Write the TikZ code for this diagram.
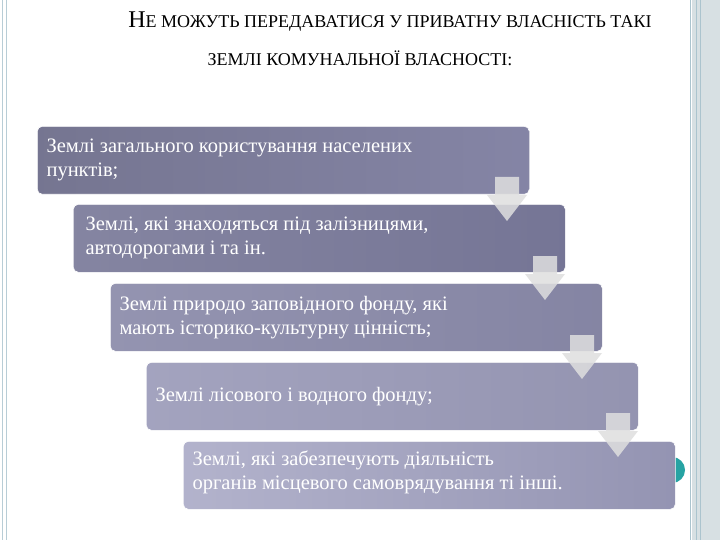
\documentclass[tikz,border=0pt]{standalone}
\usepackage{fontspec}
\setmainfont{Liberation Serif}
\begin{document}
\begin{tikzpicture}[x=1pt,y=-1pt,
 bx/.style={rounded corners=5pt,draw=white,line width=0.6pt,anchor=north west,minimum width=492pt,minimum height=68pt,inner sep=0pt},
 btxt/.style={anchor=west,text=white,font=\fontsize{20.5}{24}\selectfont,align=left},
 arr/.style={fill=gray!25!white,opacity=0.85,draw=none}]
\useasboundingbox (0,0) rectangle (720,540);
\fill[white] (0,0) rectangle (720,540);
% side decorations
\fill[cyan!20!gray!30] (692,0) rectangle (720,540);
\draw[cyan!30!gray!60,line width=1pt] (690,0)--(690,540) (696,0)--(696,540) (700,0)--(700,540);
\draw[cyan!30!gray!50,line width=1pt] (2,0)--(2,540) (6,0)--(6,540);
\fill[teal!60!cyan!70!gray] (672,470) circle (13);
% title
\node (t1) at (390,22) {\fontsize{24}{28}\selectfont Н\fontsize{18}{22}\selectfont Е МОЖУТЬ ПЕРЕДАВАТИСЯ У ПРИВАТНУ ВЛАСНІСТЬ ТАКІ};
\node (t2) at (360,58) {\fontsize{18}{22}\selectfont ЗЕМЛІ КОМУНАЛЬНОЇ ВЛАСНОСТІ:};
% boxes
\node[bx,left color=black!40!blue!20!gray!90,right color=black!20!blue!20!gray!80] (b1) at (37,126) {};
\node[bx,left color=black!30!blue!20!gray!80,right color=black!30!blue!20!gray!90] (b2) at (73,204) {};
\node[bx,left color=black!20!blue!20!gray!70,right color=black!25!blue!20!gray!80] (b3) at (110,283) {};
\node[bx,left color=black!10!blue!20!gray!60,right color=black!20!blue!20!gray!70] (b4) at (146,362) {};
\node[bx,left color=blue!20!gray!50,right color=black!15!blue!20!gray!70] (b5) at (183,441) {};
\node[btxt] (l1) at ([xshift=6pt]b1.west) {Землі загального користування населених\\пунктів;};
\node[btxt] (l2) at ([xshift=9pt]b2.west) {Землі, які знаходяться під залізницями,\\автодорогами і та ін.};
\node[btxt] (l3) at ([xshift=6pt]b3.west) {Землі природо заповідного фонду, які\\мають історико-культурну цінність;};
\node[btxt] (l4) at ([xshift=6pt]b4.west) {Землі лісового і водного фонду;};
\node[btxt] (l5) at ([xshift=6pt,yshift=3pt]b5.west) {Землі, які забезпечують діяльність\\органів місцевого самоврядування ті інші.};
% arrows
\foreach \cx/\ty in {507/177,545/256,582/335,618/413}{
 \fill[arr] (\cx-12,\ty) -- (\cx+12,\ty) -- (\cx+12,\ty+18) -- (\cx+20,\ty+18) -- (\cx,\ty+44) -- (\cx-20,\ty+18) -- (\cx-12,\ty+18) -- cycle;
}
\end{tikzpicture}
\end{document}
